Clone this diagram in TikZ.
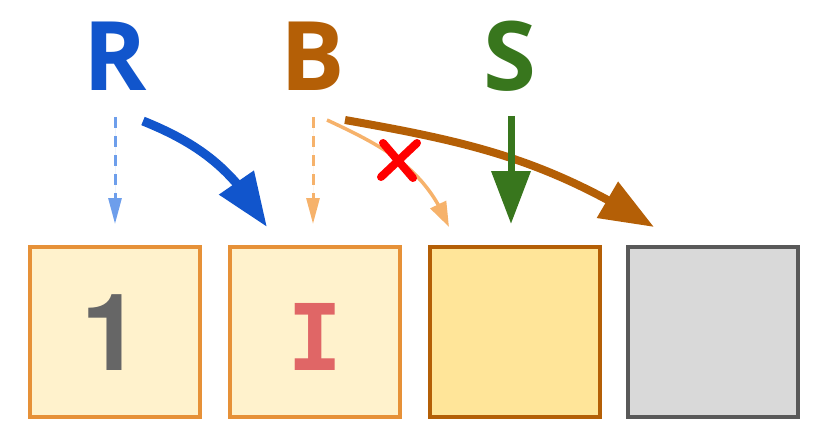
\documentclass[tikz,border=0pt]{standalone}
\usepackage{fontspec}
\setmainfont{Open Sans}
\newfontfamily\digitfont{TeX Gyre Heros}
\newfontfamily\slabfont{DejaVu Sans Mono}
\usetikzlibrary{arrows.meta,bending}
\definecolor{rblue}{HTML}{1155CC}
\definecolor{lblue}{HTML}{6D9EEB}
\definecolor{bbrown}{HTML}{B45F06}
\definecolor{lorange}{HTML}{F6B26B}
\definecolor{sgreen}{HTML}{38761D}
\definecolor{boxorange}{HTML}{E69138}
\definecolor{paleyellow}{HTML}{FFF2CC}
\definecolor{yellowfill}{HTML}{FFE599}
\definecolor{greyfill}{HTML}{D9D9D9}
\definecolor{greyline}{HTML}{595959}
\definecolor{salmon}{HTML}{E06666}
\begin{document}
\begin{tikzpicture}[x=1pt,y=1pt,
    letter/.style={font=\fontsize{96}{96}\selectfont\bfseries},
    cell/.style={draw,line width=4pt,minimum size=170pt,inner sep=0pt},
    thin dash/.style={line width=3pt,dash pattern=on 11pt off 8pt,-{Triangle[length=26pt,width=13pt]}},
    big head/.style={-{Triangle[length=54pt,width=40pt,flex]}},
    ]
    \useasboundingbox (0,0) rectangle (830,440);

    % letters
    \node [letter,text=rblue]  (R) at (115,384) {R};
    \node [letter,text=bbrown] (B) at (313,384) {B};
    \node [letter,text=sgreen] (S) at (510,384) {S};

    % cells
    \node [cell,fill=paleyellow,draw=boxorange] (C1) at (115,108) {};
    \node [cell,fill=paleyellow,draw=boxorange] (C2) at (315,108) {};
    \node [cell,fill=yellowfill,draw=bbrown]    (C3) at (515,108) {};
    \node [cell,fill=greyfill,draw=greyline]    (C4) at (713,108) {};

    \node [font=\digitfont\fontsize{107}{107}\selectfont\bfseries,text=black!60,inner sep=0pt] (one) at (111,107) {1};
    \node [font=\slabfont\fontsize{92}{92}\selectfont\bfseries,text=salmon,inner sep=0pt] (eye) at (315,103) {I};

    % arrow ends
    \coordinate (Rs) at (115,323);
    \coordinate (Re) at (115,216);
    \coordinate (Rc) at (143,319);
    \coordinate (Rt) at (267,213);
    \coordinate (Bs) at (313,323);
    \coordinate (Be) at (313,216);
    \coordinate (Bo) at (327,320);
    \coordinate (Bt) at (449,213);
    \coordinate (Bb) at (345,320);
    \coordinate (Bf) at (654,213);
    \coordinate (Ss) at (511,324);
    \coordinate (Se) at (511,216);

    \draw [thin dash,draw=lblue,fill=lblue] (Rs) -- (Re);
    \draw [thin dash,draw=lorange,fill=lorange] (Bs) -- (Be);

    \draw [line width=9pt,rblue,big head] (Rc) to[out=-22,in=120] (Rt);
    \draw [line width=3.5pt,lorange,-{Triangle[length=25pt,width=17pt,flex]}] (Bo) to[out=-25,in=112] (Bt);
    \draw [line width=8pt,bbrown,big head] (Bb) to[out=-10,in=148] (Bf);
    \draw [line width=7pt,sgreen,-{Triangle[length=53pt,width=38pt]}] (Ss) -- (Se);

    % the cross
    \coordinate (Xa) at (383,297);
    \coordinate (Xb) at (413,262);
    \coordinate (Xc) at (417,297);
    \coordinate (Xd) at (381,263);
    \draw [red,line width=8pt,line cap=round] (Xa) -- (Xb) (Xc) -- (Xd);
\end{tikzpicture}
\end{document}
